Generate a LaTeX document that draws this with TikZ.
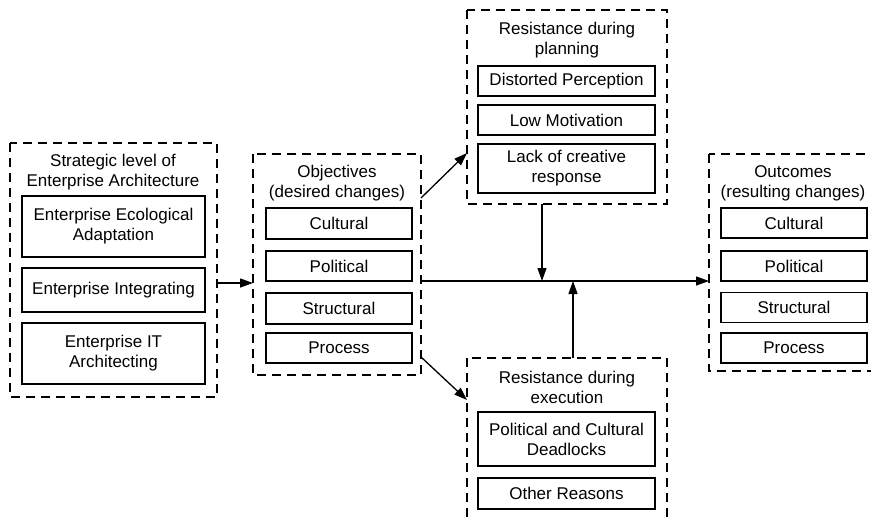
\documentclass[tikz,border=0pt]{standalone}
\usepackage{fontspec}
\setmainfont{Liberation Sans}
\usetikzlibrary{arrows.meta,calc}
\begin{document}
\begin{tikzpicture}[x=1pt,y=-1pt,
  group/.style={draw,dashed,dash pattern=on 9pt off 6pt,line width=1.3pt},
  item/.style={draw,line width=1.3pt,inner sep=0pt,align=center,font=\fontsize{17}{20}\selectfont},
  ttl/.style={align=center,inner sep=0pt,font=\fontsize{17}{20}\selectfont},
  conn/.style={line width=1.3pt,-{Triangle[length=13pt,width=9pt]}},
  plain/.style={line width=1.3pt}]
\useasboundingbox (0,0) rectangle (871,520);
% containers
\draw[group] (10,143) rectangle (217,397);
\coordinate (lefte) at (217,283);
\draw[group] (253,154) rectangle (421,375);
\draw[group] (467,10) rectangle (667,204);
\draw[group] (467,358) rectangle (667,540);
\draw[group] (709,154) rectangle (885,371);
% titles
\node[ttl] (t1) at (113,172) {Strategic level of\\Enterprise Architecture};
\node[ttl] (t2) at (337,183) {Objectives\\(desired changes)};
\node[ttl] (t3) at (567,40) {Resistance during\\planning};
\node[ttl] (t4) at (567,387) {Resistance during\\execution};
\node[ttl] (t5) at (793,183) {Outcomes\\(resulting changes)};
% left items
\node[item,minimum width=183pt,minimum height=61pt] (l1) at (113.5,226.5) {Enterprise Ecological\\Adaptation};
\node[item,minimum width=183pt,minimum height=44pt] (l2) at (113.5,290) {Enterprise Integrating};
\node[item,minimum width=183pt,minimum height=61pt] (l3) at (113.5,353.5) {Enterprise IT\\Architecting};
% objectives
\node[item,minimum width=146pt,minimum height=31pt] (o1) at (339,223.5) {Cultural};
\node[item,minimum width=146pt,minimum height=30pt] (o2) at (339,266) {Political};
\node[item,minimum width=146pt,minimum height=31pt] (o3) at (339,308.5) {Structural};
\node[item,minimum width=146pt,minimum height=30pt] (o4) at (339,348) {Process};
% planning
\node[item,minimum width=177pt,minimum height=30pt] (p1) at (566.5,81) {Distorted Perception};
\node[item,minimum width=177pt,minimum height=30pt] (p2) at (566.5,120) {Low Motivation};
\node[item,minimum width=177pt,minimum height=49pt] (p3) at (566.5,168.5) {Lack of creative\\response};
% execution
\node[item,minimum width=177pt,minimum height=54pt] (e1) at (566.5,439) {Political and Cultural\\Deadlocks};
\node[item,minimum width=177pt,minimum height=31pt] (e2) at (566.5,493.5) {Other Reasons};
% outcomes
\node[item,minimum width=146pt,minimum height=30pt] (u1) at (794,223) {Cultural};
\node[item,minimum width=146pt,minimum height=30pt] (u2) at (794,266) {Political};
\node[item,minimum width=146pt,minimum height=30pt] (u3) at (794,307.5) {Structural};
\node[item,minimum width=146pt,minimum height=30pt] (u4) at (794,348) {Process};
% connector coordinates
\coordinate (objw) at (253,283);
\coordinate (objmain) at (421,281);
\coordinate (outw) at (709,281);
\coordinate (objup) at (421,198);
\coordinate (planw) at (467,153);
\coordinate (objdn) at (421,357);
\coordinate (exew) at (467,400);
\coordinate (planb) at (542,204);
\coordinate (mainA) at (542,281);
\coordinate (exet) at (573,358);
\coordinate (mainB) at (573,281);
% connectors
\draw[conn] (lefte) -- (objw);
\draw[conn] (objmain) -- (outw);
\draw[conn] (objup) -- (planw);
\draw[conn] (objdn) -- (exew);
\draw[conn] (planb) -- (mainA);
\draw[conn] (exet) -- (mainB);
\end{tikzpicture}
\end{document}
